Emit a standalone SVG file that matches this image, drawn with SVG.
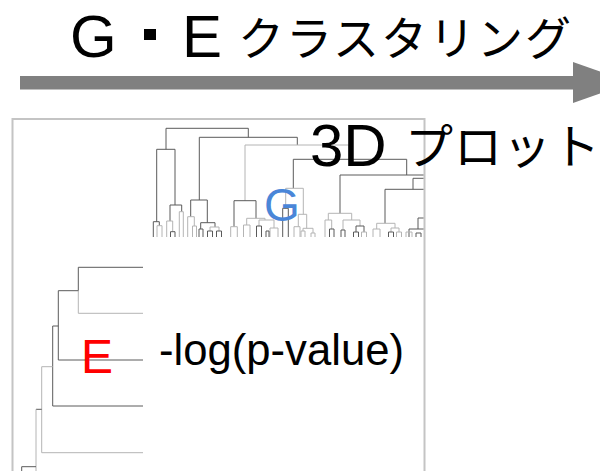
<svg xmlns="http://www.w3.org/2000/svg" width="600" height="471" viewBox="0 0 600 471">
<style>
.t{font-family:"Liberation Sans",Arial,sans-serif;fill:#000}
.j{font-family:"Noto Sans CJK JP","Noto Sans",sans-serif;fill:#000}
.d{fill:none;stroke:#5a5a5a;stroke-width:1}
.l{fill:none;stroke:#b4b4b4;stroke-width:1}
</style>
<defs>
<clipPath id="plot"><rect x="13.5" y="120" width="410" height="360"/></clipPath>
</defs>
<g id="arrow">
<rect x="20" y="76" width="556" height="13.5" fill="#808080"/>
<polygon points="573,62 632,82.5 573,103" fill="#808080"/>
</g>
<g id="title">
<text class="t" x="70" y="57" font-size="60">G</text>
<rect x="144" y="29" width="12" height="11" fill="#000"/>
<text class="t" x="182" y="57" font-size="60">E</text>
<text class="j" x="238" y="55" font-size="46" letter-spacing="2">クラスタリング</text>
</g>
<g id="frame">
<rect x="12.5" y="119" width="412" height="400" fill="none" stroke="#c4c4c4" stroke-width="2"/>
</g>
<g id="connectors" clip-path="url(#plot)">
<!-- top dendrogram (G) -->
<path class="d" d="M166 149.3V128.3H248.3V137.3"/>
<path class="d" d="M156.7 221.7V149.3H175V205"/>
<path class="d" d="M153.3 237V221.7H159.3V225.7"/>
<path class="l" d="M157 237V225.7H162V237"/>
<path class="d" d="M170 221V205H181.7V211.7"/>
<path class="l" d="M166.7 237V221H172.7V231.7"/>
<path class="d" d="M170.5 237V231.7H175V237"/>
<path class="l" d="M179.3 237V211.7H183.3V237"/>
<path class="d" d="M199.3 200V137.3H297.3V145"/>
<path class="d" d="M190.7 216.7V200H207.3V222.7"/>
<path class="l" d="M187.7 237V216.7H194.3V226"/>
<path class="l" d="M192.5 237V226H196.5V237"/>
<path class="d" d="M200.7 229V222.7H215V227"/>
<path class="d" d="M199 237V229H203V237"/>
<path class="l" d="M210 231V227H219V231"/>
<path class="d" d="M207.5 237V231H212.5V237"/>
<path class="d" d="M216.5 237V231H221.5V237"/>
<path class="l" d="M245 200.7V145H349V159.3"/>
<path class="d" d="M234 226.7V200.7H256V218.3"/>
<path class="l" d="M230.7 237V226.7H237.3V237"/>
<path class="l" d="M246.7 225V218.3H265V220"/>
<path class="l" d="M243.5 237V225H250V237"/>
<path class="l" d="M259 226V220H274V228"/>
<path class="d" d="M256.5 237V226H261.5V237"/>
<path class="l" d="M270 237V228H278V237"/>
<path class="d" d="M266 237V231H269V237"/>
<path class="d" d="M293.3 188.3V159.3H406.7V175"/>
<path class="l" d="M285.7 208.3V188.3H303.3V214.3"/>
<path class="d" d="M282.7 237V208.3H288.3V237"/>
<path class="l" d="M298.3 226.7V214.3H306.7V228.3"/>
<path class="l" d="M294 237V226.7H300V237"/>
<path class="l" d="M303 231V228.3H313V233"/>
<path class="l" d="M301 237V231H305V237"/>
<path class="l" d="M311 237V233H315V237"/>
<path class="d" d="M340 213.3V175H473"/>
<path class="l" d="M328.3 220V213.3H351.7V220"/>
<path class="l" d="M325 237V220H331.7V229"/>
<path class="d" d="M329.5 237V229H334V237"/>
<path class="l" d="M343 230V220H360V226"/>
<path class="d" d="M341 237V230H345V237"/>
<path class="d" d="M356 232V226H364V232"/>
<path class="d" d="M353.5 237V232H358.5V237"/>
<path class="l" d="M361.5 237V232H366.5V237"/>
<path class="d" d="M413 189.3V178.3H460"/>
<path class="d" d="M385 223.3V189.3H441"/>
<path class="l" d="M376.7 229V223.3H395V228"/>
<path class="l" d="M373 237V229H380V237"/>
<path class="l" d="M391 232V228H399V232"/>
<path class="d" d="M388.5 237V232H393.5V237"/>
<path class="l" d="M396.5 237V232H401.5V237"/>
<path class="d" d="M418 229V218H430"/>
<path class="d" d="M409 237V229H424"/>
<path class="l" d="M406 237V232H412V237"/>
<path class="d" d="M416 237V233H421V237"/>
<!-- left dendrogram (E) -->
<path class="d" d="M143 267.3H78.3V290.7"/>
<path class="l" d="M78.3 290.7V313.3H143"/>
<path class="d" d="M78.3 290.7H58.3V360H143"/>
<path class="d" d="M58.3 326H52.7V406H143"/>
<path class="l" d="M52.7 366.7H41.7V452.7H143"/>
<path class="d" d="M41.7 409.3H36"/>
<path class="l" d="M36 409.3V480"/>
<path class="d" d="M36 466.7H21.7V480"/>
</g>
<g id="labels">
<text x="264" y="221" font-family="Liberation Sans,Arial,sans-serif" font-size="46" fill="#4a86d8">G</text>
<text x="81" y="373" font-family="Liberation Sans,Arial,sans-serif" font-size="48" fill="#ff0000">E</text>
<text class="t" x="159" y="365" font-size="45" textLength="245" lengthAdjust="spacingAndGlyphs">-log(p-value)</text>
<text class="t" x="310" y="166" font-size="60">3D</text>
<text class="j" x="405" y="164" font-size="48" letter-spacing="1">プロット</text>
</g>
</svg>
